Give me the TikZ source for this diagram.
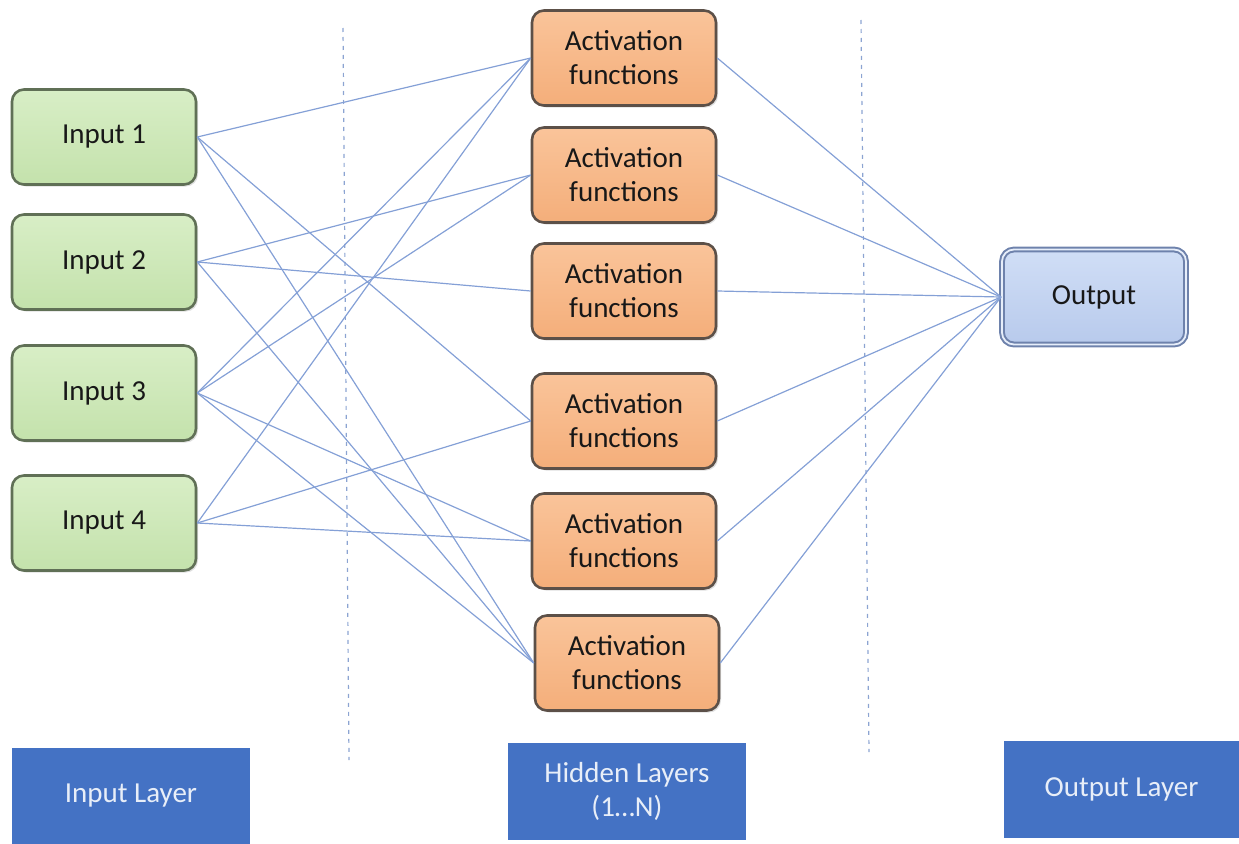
\documentclass[tikz,border=0pt]{standalone}
\usepackage{fontspec}
\setmainfont{Carlito}
\usetikzlibrary{shadows}

\definecolor{inFill}{RGB}{216,238,198}
\definecolor{inFillB}{RGB}{196,226,172}
\definecolor{inEdge}{RGB}{96,112,86}
\definecolor{actFill}{RGB}{250,196,154}
\definecolor{actFillB}{RGB}{244,174,122}
\definecolor{actEdge}{RGB}{92,80,72}
\definecolor{outFill}{RGB}{208,222,246}
\definecolor{outFillB}{RGB}{184,202,236}
\definecolor{outEdge}{RGB}{110,130,172}
\definecolor{linkBlue}{RGB}{132,160,214}
\definecolor{guideBlue}{RGB}{140,164,210}
\definecolor{layerBlue}{RGB}{68,114,196}
\definecolor{layerText}{RGB}{232,238,248}
\definecolor{boxText}{RGB}{24,24,24}

\tikzset{
  basebox/.style={rectangle, rounded corners=12pt, minimum width=184pt,
    minimum height=95pt, line width=2.6pt, align=center, text=boxText,
    font=\fontsize{29}{34}\selectfont,
    drop shadow={shadow xshift=2pt, shadow yshift=-2pt, opacity=0.25}},
  inbox/.style={basebox, draw=inEdge, top color=inFill, bottom color=inFillB},
  actbox/.style={basebox, draw=actEdge, top color=actFill, bottom color=actFillB},
  outbox/.style={basebox, draw=outEdge, top color=outFill, bottom color=outFillB,
    double=outFill!50!white, double distance=1.8pt, line width=2pt},
  layerbox/.style={rectangle, fill=layerBlue, text=layerText, align=center,
    minimum width=238pt, minimum height=96pt, inner sep=0pt,
    font=\fontsize{29}{34}\selectfont},
  link/.style={draw=linkBlue, line width=1.2pt},
  guide/.style={draw=guideBlue, line width=1.2pt, dash pattern=on 4pt off 5pt}
}

\begin{document}
\begin{tikzpicture}[x=1pt,y=-1pt]
  \useasboundingbox (0,0) rectangle (1239,843);

  % layer separators
  \coordinate (g1t) at (343,28);
  \coordinate (g1b) at (349,760);
  \coordinate (g2t) at (861,20);
  \coordinate (g2b) at (869,752);
  \draw[guide] (g1t) -- (g1b);
  \draw[guide] (g2t) -- (g2b);

  % input layer
  \node[inbox] (i1) at (104,137) {Input 1};
  \node[inbox] (i2) at (104,262) {Input 2};
  \node[inbox] (i3) at (104,393) {Input 3};
  \node[inbox] (i4) at (104,523) {Input 4};

  % hidden layer
  \node[actbox] (a1) at (624,58)  {Activation\\functions};
  \node[actbox] (a2) at (624,175) {Activation\\functions};
  \node[actbox] (a3) at (624,291) {Activation\\functions};
  \node[actbox] (a4) at (624,421) {Activation\\functions};
  \node[actbox] (a5) at (624,541) {Activation\\functions};
  \node[actbox] (a6) at (627,663) {Activation\\functions};

  % output layer
  \node[outbox] (o) at (1094,297) {Output};

  % input -> hidden connections
  \draw[link] (i1.east) -- (a1.west);
  \draw[link] (i1.east) -- (a4.west);
  \draw[link] (i1.east) -- (a6.west);
  \draw[link] (i2.east) -- (a2.west);
  \draw[link] (i2.east) -- (a3.west);
  \draw[link] (i2.east) -- (a6.west);
  \draw[link] (i3.east) -- (a1.west);
  \draw[link] (i3.east) -- (a2.west);
  \draw[link] (i3.east) -- (a5.west);
  \draw[link] (i3.east) -- (a6.west);
  \draw[link] (i4.east) -- (a1.west);
  \draw[link] (i4.east) -- (a4.west);
  \draw[link] (i4.east) -- (a5.west);

  % hidden -> output connections
  \foreach \h in {a1,a2,a3,a4,a5,a6}
    \draw[link] (\h.east) -- (o.west);

  % layer captions
  \node[layerbox] (li) at (131,796) {Input Layer};
  \node[layerbox, minimum height=97pt] (lh) at (627,791) {Hidden Layers\\(1\dots N)};
  \node[layerbox, minimum width=235pt, minimum height=97pt] (lo) at (1121.5,789.5) {Output Layer};
\end{tikzpicture}
\end{document}
